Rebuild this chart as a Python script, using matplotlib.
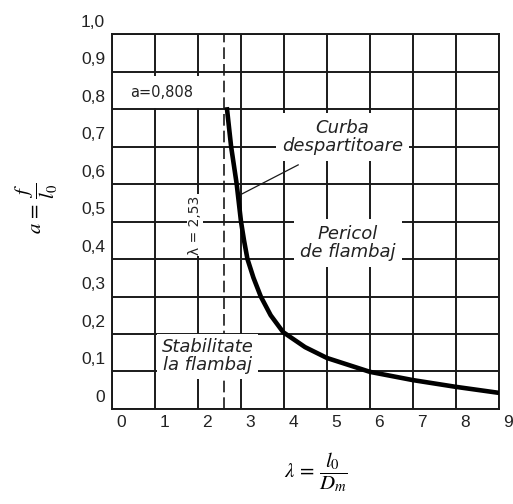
import numpy as np
import matplotlib
matplotlib.use('Agg')
import matplotlib.pyplot as plt
from matplotlib.transforms import ScaledTranslation

# valori (lambda = l0/Dm, a = f/l0)
lam = [2.67, 2.77, 2.90, 3.00, 3.07, 3.15, 3.29, 3.46, 3.69, 3.98, 4.49, 5.0, 6.0, 7.0, 8.0, 9.0]
a_vals = [0.805, 0.70, 0.60, 0.50, 0.45, 0.40, 0.35, 0.30, 0.25, 0.205, 0.165, 0.136, 0.099, 0.077, 0.059, 0.043]
lam_crit = 2.6

x_ticks = list(range(10))
y_ticks = [round(0.1 * i, 1) for i in range(11)]
y_labels = ['0', '0,1', '0,2', '0,3', '0,4', '0,5', '0,6', '0,7', '0,8', '0,9', '1,0']

plt.rcParams['mathtext.fontset'] = 'stix'

fig = plt.figure(figsize=(5.13, 5.04), dpi=100)
ax = fig.add_axes([0.2183, 0.1885, 0.7544, 0.744])

ink = '#1a1a1a'

# curba despartitoare
ax.plot(lam, a_vals, color='black', lw=3.3, zorder=5,
        solid_capstyle='butt', solid_joinstyle='round')

# linia lambda critic
ax.axvline(lam_crit, color=ink, lw=1.2, dashes=(7, 3), zorder=2)

ax.set_xlim(0, 9)
ax.set_ylim(0, 1)
ax.set_xticks(x_ticks)
ax.set_xticklabels([str(v) for v in x_ticks])
ax.set_yticks(y_ticks)
ax.set_yticklabels(y_labels)
ax.grid(True, color=ink, lw=1.4, zorder=1)
ax.set_axisbelow(True)
for s in ax.spines.values():
    s.set_linewidth(1.4)
    s.set_color(ink)
ax.tick_params(length=0, labelsize=12.5, colors='#222222')
ax.tick_params(axis='x', pad=4)
ax.tick_params(axis='y', pad=5)

# etichetele sunt decalate fata de liniile de grila, ca in original
for lbl in ax.get_xticklabels():
    lbl.set_fontfamily('Liberation Sans')
    lbl.set_transform(lbl.get_transform() + ScaledTranslation(6.5 / 72, 0, fig.dpi_scale_trans))
for lbl in ax.get_yticklabels():
    lbl.set_fontfamily('Liberation Sans')
    lbl.set_transform(lbl.get_transform() + ScaledTranslation(0, 9.4 / 72, fig.dpi_scale_trans))

ax.text(1.16, 0.845, 'a=0,808', fontsize=10.5, ha='center', va='center',
        family='DejaVu Sans', color='#222222',
        bbox=dict(fc='white', ec='none', boxstyle='square,pad=0.6'), zorder=3)

ax.text(1.93, 0.49, 'λ = 2,53', fontsize=10, rotation=90, ha='center', va='center',
        color='#222222', bbox=dict(fc='white', ec='none', pad=1), zorder=3)

ax.text(5.36, 0.725, 'Curba\ndespartitoare', fontsize=13, style='italic',
        ha='center', va='center', linespacing=1.0, color='#222222',
        bbox=dict(fc='white', ec='none', boxstyle='square,pad=0.35'), zorder=3)

ax.text(5.49, 0.443, 'Pericol\nde flambaj', fontsize=13, style='italic',
        ha='center', va='center', linespacing=1.0, color='#222222',
        bbox=dict(fc='white', ec='none', boxstyle='square,pad=0.35'), zorder=3)

ax.text(2.22, 0.14, 'Stabilitate\nla flambaj', fontsize=13, style='italic',
        ha='center', va='center', linespacing=1.0, color='#222222',
        bbox=dict(fc='white', ec='none', boxstyle='square,pad=0.25'), zorder=3)

# linie de indicatie spre curba
ax.plot([2.98, 4.33], [0.571, 0.651], color=ink, lw=0.9, zorder=4)

fig.text(0.072, 0.587, r'$a\,=\,\dfrac{f}{l_0}$', fontsize=15, rotation=90,
         ha='center', va='center')
fig.text(0.616, 0.0635, r'$\lambda\,=\,\dfrac{l_0}{D_m}$', fontsize=15,
         ha='center', va='center')

fig.savefig('out.png', dpi=100)
